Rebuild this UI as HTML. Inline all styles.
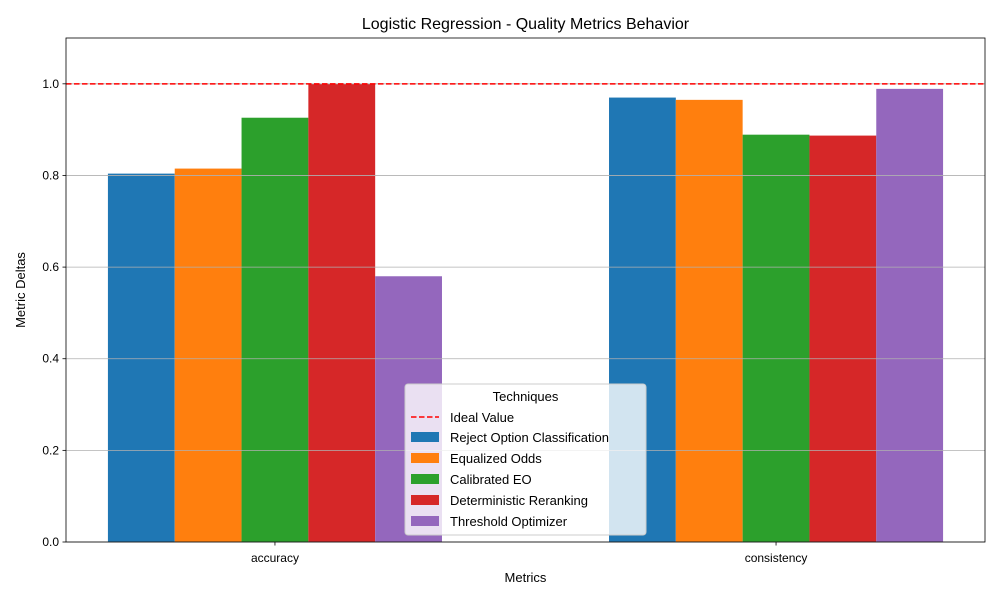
<!DOCTYPE html>
<html><head><meta charset="utf-8"><style>
body{margin:0;background:#fff;}
svg text{font-family:"Liberation Sans","DejaVu Sans",sans-serif;fill:#000;}
</style></head><body>
<svg id="chart" width="1000" height="600" xmlns="http://www.w3.org/2000/svg">
<rect width="1000" height="600" fill="#fff"/>
<g id="bars"></g>
<g id="grid"></g>
<g id="axes"></g>
<text x="525.5" y="29" font-size="16" text-anchor="middle">Logistic Regression - Quality Metrics Behavior</text>
<text x="525.5" y="582" font-size="13" text-anchor="middle">Metrics</text>
<text transform="translate(25,290) rotate(-90)" font-size="13" text-anchor="middle">Metric Deltas</text>
<g id="legend"></g>
</svg>
<script>
const categories=["accuracy","consistency"];
const seriesNames=["Reject Option Classification","Equalized Odds","Calibrated EO","Deterministic Reranking","Threshold Optimizer"];
const colors=["#1f77b4","#ff7f0e","#2ca02c","#d62728","#9467bd"];
const rejectOption=[0.804,0.970];
const equalizedOdds=[0.815,0.965];
const calibratedEO=[0.926,0.889];
const deterministicReranking=[1.0,0.887];
const thresholdOptimizer=[0.58,0.989];
const yTicks=[0,0.2,0.4,0.6,0.8,1.0];
const yTickLabels=["0.0","0.2","0.4","0.6","0.8","1.0"];
const idealValue=1.0;
const series=[rejectOption,equalizedOdds,calibratedEO,deterministicReranking,thresholdOptimizer];
const NS="http://www.w3.org/2000/svg";
const L=66,R=985,T=38,B=542;
const xMin=-0.417,xMax=1.417,yMin=0,yMax=1.1;
const xs=v=>L+(v-xMin)/(xMax-xMin)*(R-L);
const ys=v=>B-(v-yMin)/(yMax-yMin)*(B-T);
function mk(tag,attrs,parent){const e=document.createElementNS(NS,tag);for(const k in attrs)e.setAttribute(k,attrs[k]);parent.appendChild(e);return e;}
const gb=document.getElementById('bars'),gg=document.getElementById('grid'),ga=document.getElementById('axes'),gl=document.getElementById('legend');
const bw=2/3/5;
series.forEach((s,si)=>{s.forEach((v,ci)=>{
 const x0=xs(ci-1/3+si*bw),x1=xs(ci-1/3+(si+1)*bw);
 const r=mk('rect',{x:x0,y:ys(v),width:x1-x0,height:ys(0)-ys(v),fill:colors[si]},gb);
 
 
});});
yTicks.forEach((t,i)=>{
 const y=ys(t);
 const g=mk('line',{x1:L,x2:R,y1:y,y2:y,stroke:'#b0b0b0','stroke-width':0.8},gg);
 
 
 mk('line',{x1:L-3.5,x2:L,y1:y,y2:y,stroke:'#000','stroke-width':0.8},ga);
 const tx=mk('text',{x:L-7,y:y+4,'font-size':12,'text-anchor':'end'},ga);tx.textContent=yTickLabels[i];
 
 
});
const il=mk('line',{x1:L,x2:R,y1:ys(idealValue),y2:ys(idealValue),stroke:'#ff0000','stroke-width':1.5,'stroke-dasharray':'5.5,2.5'},ga);


categories.forEach((c,i)=>{
 const x=xs(i);
 mk('line',{x1:x,x2:x,y1:B,y2:B+3.5,stroke:'#000','stroke-width':0.8},ga);
 const tx=mk('text',{x:x,y:B+20,'font-size':12,'text-anchor':'middle'},ga);tx.textContent=c;
 
 
});
mk('rect',{x:L,y:T,width:R-L,height:B-T,fill:'none',stroke:'#000','stroke-width':0.8},ga);
// legend
mk('rect',{x:405,y:384,width:241,height:151,rx:3,fill:'rgba(255,255,255,0.8)',stroke:'#cccccc','stroke-width':1},gl);
const lt=mk('text',{x:525.5,y:401,'font-size':13,'text-anchor':'middle'},gl);lt.textContent='Techniques';
const ld=mk('line',{x1:411,x2:439,y1:417,y2:417,stroke:'#ff0000','stroke-width':1.5,'stroke-dasharray':'5.5,2.5'},gl);
const t0=mk('text',{x:450,y:422,'font-size':13},gl);t0.textContent='Ideal Value';
seriesNames.forEach((n,i)=>{
 const y=437+i*21;
 mk('rect',{x:411,y:y-5,width:28,height:10,fill:colors[i]},gl);
 const t=mk('text',{x:450,y:y+5,'font-size':13},gl);t.textContent=n;
 
 
});
</script>
</body></html>
